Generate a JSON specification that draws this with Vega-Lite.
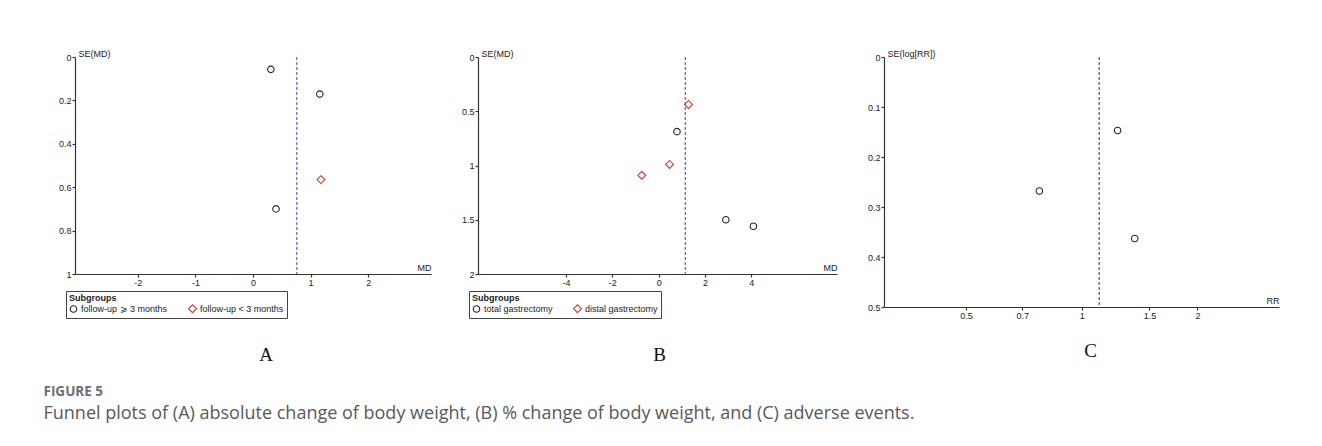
{
  "$schema": "https://vega.github.io/schema/vega-lite/v6.json",
  "background": "white",
  "padding": {"left": 43, "top": 49, "right": 30, "bottom": 10},
  "bounds": "flush",
  "spacing": 47,
  "title": {
    "text": "FIGURE 5",
    "subtitle": "Funnel plots of (A) absolute change of body weight, (B) % change of body weight, and (C) adverse events.",
    "orient": "bottom",
    "anchor": "start",
    "dx": -15,
    "offset": 20,
    "font": "Open Sans",
    "fontSize": 13.5,
    "fontWeight": "bold",
    "color": "#6d6e71",
    "subtitleFont": "Open Sans",
    "subtitleFontSize": 18,
    "subtitleColor": "#58595b",
    "subtitlePadding": 7
  },
  "datasets": {
    "a": [
      {"MD": 0.31, "SE": 0.057, "Subgroup": "follow-up ⩾ 3 months"},
      {"MD": 1.16, "SE": 0.171, "Subgroup": "follow-up ⩾ 3 months"},
      {"MD": 0.40, "SE": 0.70, "Subgroup": "follow-up ⩾ 3 months"},
      {"MD": 1.18, "SE": 0.565, "Subgroup": "follow-up < 3 months"}
    ],
    "b": [
      {"MD": 0.79, "SE": 0.688, "Subgroup": "total gastrectomy"},
      {"MD": 2.90, "SE": 1.50, "Subgroup": "total gastrectomy"},
      {"MD": 4.09, "SE": 1.56, "Subgroup": "total gastrectomy"},
      {"MD": 1.29, "SE": 0.437, "Subgroup": "distal gastrectomy"},
      {"MD": 0.47, "SE": 0.99, "Subgroup": "distal gastrectomy"},
      {"MD": -0.73, "SE": 1.09, "Subgroup": "distal gastrectomy"}
    ],
    "c": [
      {"RR": 1.24, "SE": 0.147},
      {"RR": 0.776, "SE": 0.268},
      {"RR": 1.374, "SE": 0.363}
    ]
  },
  "hconcat": [
    {
      "width": 356,
      "height": 217,
      "title": {"text": "A", "orient": "bottom", "font": "Liberation Serif", "fontSize": 19, "fontWeight": "normal", "color": "#111", "dx": 13, "offset": 27},
      "layer": [
        {
          "data": {"name": "a"},
          "mark": {"type": "point", "filled": false, "strokeWidth": 1.1, "opacity": 1},
          "encoding": {
            "x": {"field": "MD", "type": "quantitative", "scale": {"domain": [-3.09, 3.09], "nice": false, "zero": false},
              "axis": {"values": [-2, -1, 0, 1, 2], "title": "MD", "titleX": 356, "titleY": -2, "titleAlign": "right", "titleBaseline": "bottom"}},
            "y": {"field": "SE", "type": "quantitative", "scale": {"domain": [0, 1], "reverse": true, "nice": false, "zero": false},
              "axis": {"values": [0, 0.2, 0.4, 0.6, 0.8, 1], "title": "SE(MD)"}},
            "shape": {"field": "Subgroup", "type": "nominal", "scale": {"domain": ["follow-up ⩾ 3 months", "follow-up < 3 months"], "range": ["circle", "diamond"]},
              "legend": {"title": "Subgroups", "orient": "none", "legendX": -9, "legendY": 234, "direction": "horizontal", "columnPadding": 18}},
            "color": {"field": "Subgroup", "type": "nominal", "scale": {"domain": ["follow-up ⩾ 3 months", "follow-up < 3 months"], "range": ["#222222", "#d2362b"]},
              "legend": {"title": "Subgroups", "orient": "none", "legendX": -9, "legendY": 234, "direction": "horizontal", "columnPadding": 18}},
            "size": {"field": "Subgroup", "type": "nominal", "scale": {"domain": ["follow-up ⩾ 3 months", "follow-up < 3 months"], "range": [42, 62]}, "legend": null}
          }
        },
        {
          "data": {"values": [{"pooled": 0.76}]},
          "mark": {"type": "rule", "strokeDash": [3, 2], "color": "#5a5ad8", "strokeWidth": 1.2},
          "encoding": {"x": {"field": "pooled", "type": "quantitative"}}
        }
      ]
    },
    {
      "width": 359,
      "height": 217,
      "title": {"text": "B", "orient": "bottom", "font": "Liberation Serif", "fontSize": 19, "fontWeight": "normal", "color": "#111", "dx": 2, "offset": 27},
      "layer": [
        {
          "data": {"name": "b"},
          "mark": {"type": "point", "filled": false, "strokeWidth": 1.1, "opacity": 1},
          "encoding": {
            "x": {"field": "MD", "type": "quantitative", "scale": {"domain": [-7.8, 7.7], "nice": false, "zero": false},
              "axis": {"values": [-4, -2, 0, 2, 4], "title": "MD", "titleX": 359, "titleY": -2, "titleAlign": "right", "titleBaseline": "bottom"}},
            "y": {"field": "SE", "type": "quantitative", "scale": {"domain": [0, 2], "reverse": true, "nice": false, "zero": false},
              "axis": {"values": [0, 0.5, 1, 1.5, 2], "title": "SE(MD)"}},
            "shape": {"field": "Subgroup", "type": "nominal", "scale": {"domain": ["total gastrectomy", "distal gastrectomy"], "range": ["circle", "diamond"]},
              "legend": {"title": "Subgroups", "orient": "none", "legendX": -9, "legendY": 234, "direction": "horizontal", "columnPadding": 18}},
            "color": {"field": "Subgroup", "type": "nominal", "scale": {"domain": ["total gastrectomy", "distal gastrectomy"], "range": ["#222222", "#d2362b"]},
              "legend": {"title": "Subgroups", "orient": "none", "legendX": -9, "legendY": 234, "direction": "horizontal", "columnPadding": 18}},
            "size": {"field": "Subgroup", "type": "nominal", "scale": {"domain": ["total gastrectomy", "distal gastrectomy"], "range": [42, 62]}, "legend": null}
          }
        },
        {
          "data": {"values": [{"pooled": 1.15}]},
          "mark": {"type": "rule", "strokeDash": [3, 2], "color": "#5a5ad8", "strokeWidth": 1.2},
          "encoding": {"x": {"field": "pooled", "type": "quantitative"}}
        }
      ]
    },
    {
      "width": 395,
      "height": 250,
      "title": {"text": "C", "orient": "bottom", "font": "Liberation Serif", "fontSize": 19, "fontWeight": "normal", "color": "#111", "dx": 9, "offset": 22},
      "layer": [
        {
          "data": {"name": "c"},
          "mark": {"type": "point", "shape": "circle", "filled": false, "strokeWidth": 1.1, "size": 42, "color": "#222222", "opacity": 1},
          "encoding": {
            "x": {"field": "RR", "type": "quantitative", "scale": {"type": "log", "domain": [0.306, 3.26], "nice": false},
              "axis": {"values": [0.5, 0.7, 1, 1.5, 2], "title": "RR", "titleX": 395, "titleY": -2, "titleAlign": "right", "titleBaseline": "bottom"}},
            "y": {"field": "SE", "type": "quantitative", "scale": {"domain": [0, 0.5], "reverse": true, "nice": false, "zero": false},
              "axis": {"values": [0, 0.1, 0.2, 0.3, 0.4, 0.5], "title": "SE(log[RR])"}}
          }
        },
        {
          "data": {"values": [{"pooled": 1.11}]},
          "mark": {"type": "rule", "strokeDash": [3, 2], "color": "#4848b8", "strokeWidth": 1.2},
          "encoding": {"x": {"field": "pooled", "type": "quantitative"}}
        }
      ]
    }
  ],
  "resolve": {"scale": {"shape": "independent", "color": "independent", "size": "independent", "x": "independent", "y": "independent"}},
  "config": {
    "view": {"stroke": null},
    "font": "Liberation Sans",
    "axis": {
      "grid": false,
      "domainColor": "#333333",
      "domainWidth": 1.2,
      "tickColor": "#333333",
      "tickWidth": 1.2,
      "tickSize": 3,
      "labelFont": "Liberation Sans",
      "labelFontSize": 9,
      "labelColor": "#222222",
      "labelPadding": 1,
      "labelFlush": false,
      "labelOverlap": false,
      "labelExpr": "'' + datum.value",
      "titleFont": "Liberation Sans",
      "titleFontSize": 9,
      "titleFontWeight": "normal",
      "titleColor": "#222222"
    },
    "axisX": {"labelPadding": 1},
    "axisY": {"titleAngle": 0, "titleX": 3, "titleY": 1, "titleAlign": "left", "titleBaseline": "bottom"},
    "legend": {
      "strokeColor": "#444444",
      "padding": 3,
      "titleFont": "Liberation Sans",
      "titleFontSize": 9,
      "titleFontWeight": "bold",
      "titleColor": "#222222",
      "titlePadding": 1,
      "labelFont": "Liberation Sans",
      "labelFontSize": 9,
      "labelColor": "#222222",
      "symbolSize": 55,
      "symbolStrokeWidth": 1.1,
      "symbolOffset": 0,
      "labelOffset": 3
    }
  }
}
